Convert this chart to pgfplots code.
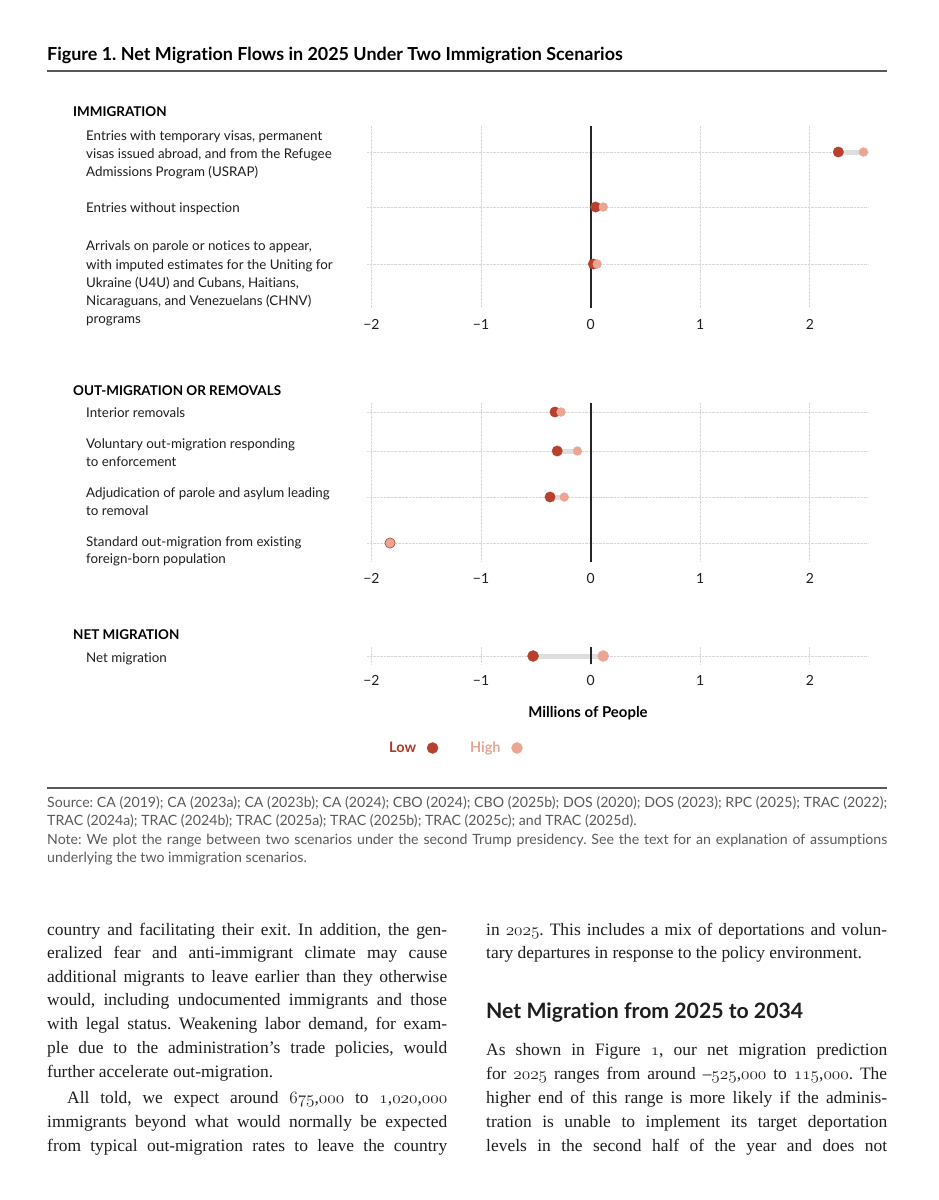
\documentclass[border=0pt]{standalone}
\usepackage{fontspec}
\setmainfont{Liberation Serif}
\newfontfamily\lato[Ligatures=NoCommon]{Lato}
\usepackage{pgfplots}
\pgfplotsset{compat=1.18}
\usepackage{pgfplotstable}
\frenchspacing

\definecolor{lowc}{RGB}{183,65,44}
\definecolor{highc}{RGB}{234,166,146}
\definecolor{lowt}{RGB}{172,56,40}
\definecolor{hight}{RGB}{228,165,148}
\definecolor{conn}{RGB}{222,222,222}
\definecolor{gridc}{RGB}{216,216,216}
\definecolor{txt}{RGB}{30,30,30}
\definecolor{note}{RGB}{90,90,90}

% pos = vertical position of the row (page pixels), values in millions
\pgfplotstableread{
pos low high
152 2.26 2.49
207 0.045 0.115
264 0.025 0.06
}\immig
\pgfplotstableread{
pos low high
412 -0.325 -0.27
451 -0.305 -0.12
497 -0.37 -0.24
543 -1.83 -1.83
}\outmig
\pgfplotstableread{
pos low high
656 -0.525 0.115
}\netmig

\pgfplotsset{
  dumbbell/.style={
    scale only axis, width=502bp,
    xmin=-2.04, xmax=2.54, y dir=reverse,
    axis x line*=bottom, axis y line*=left,
    axis line style={draw=none}, major tick length=0pt,
    xtick={-2,-1,0,1,2}, xticklabels={−2,−1,0,1,2},
    xticklabel style={font=\lato\fontsize{14}{14}\selectfont, text=txt, yshift=-7.5bp},
    yticklabels={},
    xmajorgrids, ymajorgrids,
    grid style={densely dotted, gridc, line width=0.8bp},
    clip=false,
  },
  conn/.style={only marks, mark=none, forget plot,
    error bars/.cd, x dir=plus, x explicit, error mark=none,
    error bar style={draw=conn, line width=5bp}},
  lowm/.style={lowc, only marks, mark=*, mark size=5.2bp},
  highm/.style={highc, only marks, mark=*, mark size=4.4bp},
}

\newcommand\lab[3]{\node[anchor=mid west, inner sep=0pt, yshift=-3bp, font=\lato\fontsize{13.4}{13.4}\selectfont, text=txt] at (#1,-#2) {#3};}
\newcommand\head[2]{\node[anchor=mid west, inner sep=0pt, yshift=-3bp, font=\lato\bfseries\fontsize{13.5}{13.5}\selectfont, text=black] at (73,-#1) {#2};}
\newcommand\bl[4]{\node[anchor=mid west, inner sep=0pt, yshift=-3bp, font=\fontsize{17.5}{17.5}\selectfont, text=txt] at (#1,-#2) {\makebox[#3bp][s]{#4}};}
\newcommand\bn[3]{\node[anchor=mid west, inner sep=0pt, yshift=-3bp, font=\fontsize{17.5}{17.5}\selectfont, text=txt] at (#1,-#2) {#3};}
% old-style figures from the Computer Modern math italic font
\newcommand\on[1]{{\fontencoding{OML}\fontfamily{cmm}\fontseries{m}\fontshape{it}\selectfont #1}}

\begin{document}
\begin{tikzpicture}[x=1bp, y=1bp]
\path[use as bounding box, fill=white] (0,0) rectangle (939,-1200);

% title and rules
\node[anchor=mid west, inner sep=0pt, yshift=-3bp, font=\lato\bfseries\fontsize{18}{18}\selectfont, text=black] at (47,-55)
  {Figure 1. Net Migration Flows in 2025 Under Two Immigration Scenarios};
\draw[black!65, line width=1.2bp] (47,-71) -- (887,-71);
\draw[black!65, line width=1.2bp] (47,-788) -- (887,-788);

% immigration
\begin{axis}[dumbbell, at={(367bp,-308bp)}, anchor=south west, height=182bp, ymin=126, ymax=308,
  ytick={152,207,264}]
  \addplot[conn] table[x=low, y=pos, x error expr=\thisrow{high}-\thisrow{low}] {\immig};
  \addplot[black!85, line width=2.2bp, forget plot] coordinates {(0,126) (0,308)};
  \addplot[lowm] table[x=low, y=pos] {\immig};
  \addplot[highm] table[x=high, y=pos] {\immig};
\end{axis}

% out-migration
\begin{axis}[dumbbell, at={(367bp,-562bp)}, anchor=south west, height=159bp, ymin=403, ymax=562,
  ytick={412,451,497,543}]
  \addplot[conn] table[x=low, y=pos, x error expr=\thisrow{high}-\thisrow{low}] {\outmig};
  \addplot[black!85, line width=2.2bp, forget plot] coordinates {(0,403) (0,562)};
  \addplot[lowm] table[x=low, y=pos] {\outmig};
  \addplot[highm] table[x=high, y=pos] {\outmig};
\end{axis}

% net migration
\begin{axis}[dumbbell, at={(367bp,-664bp)}, anchor=south west, height=17bp, ymin=647, ymax=664,
  ytick={656},
  legend columns=2, legend plot pos=right,
  legend style={draw=none, fill=none, at={(axis description cs:0.175,-4.94)}, anchor=center,
    font=\lato\bfseries\fontsize{14.5}{14.5}\selectfont,
    /tikz/every odd column/.append style={column sep=9bp},
    /tikz/every even column/.append style={column sep=30bp}}]
  \addplot[conn] table[x=low, y=pos, x error expr=\thisrow{high}-\thisrow{low}] {\netmig};
  \addplot[black!85, line width=2.2bp, forget plot] coordinates {(0,647) (0,664)};
  \addplot[lowm, mark size=5.5bp] table[x=low, y=pos] {\netmig};
  \addlegendentry[text=lowt]{Low}
  \addplot[highm, mark size=5.5bp] table[x=high, y=pos] {\netmig};
  \addlegendentry[text=hight]{High}
\end{axis}

\node[font=\lato\bfseries\fontsize{15}{15}\selectfont, text=black] at (588,-713) {Millions of People};

% row labels
\head{111}{IMMIGRATION}
\lab{86}{135}{Entries with temporary visas, permanent}
\lab{86}{153}{visas issued abroad, and from the Refugee}
\lab{86}{171}{Admissions Program (USRAP)}
\lab{86}{207}{Entries without inspection}
\lab{86}{245}{Arrivals on parole or notices to appear,}
\lab{86}{264}{with imputed estimates for the Uniting for}
\lab{86}{282}{Ukraine (U4U) and Cubans, Haitians,}
\lab{86}{300}{Nicaraguans, and Venezuelans (CHNV)}
\lab{86}{318}{programs}
\head{390}{OUT-MIGRATION OR REMOVALS}
\lab{86}{412}{Interior removals}
\lab{86}{443}{Voluntary out-migration responding}
\lab{86}{461}{to enforcement}
\lab{86}{492}{Adjudication of parole and asylum leading}
\lab{86}{510}{to removal}
\lab{86}{541}{Standard out-migration from existing}
\lab{86}{558}{foreign-born population}
\head{634}{NET MIGRATION}
\lab{86}{657}{Net migration}

% source and note
\begin{scope}[every node/.style={anchor=mid west, inner sep=0pt, yshift=-3bp, font=\lato\fontsize{14.2}{14.2}\selectfont, text=note}]
\node at (47,-802) {\makebox[840bp][s]{Source: CA (2019); CA (2023a); CA (2023b); CA (2024); CBO (2024); CBO (2025b); DOS (2020); DOS (2023); RPC (2025); TRAC (2022);}};
\node at (47,-820) {TRAC (2024a); TRAC (2024b); TRAC (2025a); TRAC (2025b); TRAC (2025c); and TRAC (2025d).};
\node at (47,-839) {\makebox[840bp][s]{Note: We plot the range between two scenarios under the second Trump presidency. See the text for an explanation of assumptions}};
\node at (47,-857) {underlying the two immigration scenarios.};
\end{scope}

% body text, left column
\bl{47}{930}{400}{country and facilitating their exit. In addition, the gen-}
\bl{47}{953}{400}{eralized fear and anti-immigrant climate may cause}
\bl{47}{977}{400}{additional migrants to leave earlier than they otherwise}
\bl{47}{1000}{400}{would, including undocumented immigrants and those}
\bl{47}{1024}{400}{with legal status. Weakening labor demand, for exam-}
\bl{47}{1048}{400}{ple due to the administration’s trade policies, would}
\bn{47}{1072}{further accelerate out-migration.}
\bl{67}{1098}{380}{All told, we expect around \on{675},\on{000} to \on{1},\on{020},\on{000}}
\bl{47}{1122}{400}{immigrants beyond what would normally be expected}
\bl{47}{1146}{400}{from typical out-migration rates to leave the country}

% body text, right column
\bl{486}{930}{401}{in \on{2025}. This includes a mix of deportations and volun-}
\bn{486}{953}{tary departures in response to the policy environment.}
\node[anchor=mid west, inner sep=0pt, yshift=-4bp, font=\lato\bfseries\fontsize{21.3}{21.3}\selectfont, text=txt] at (486,-1012) {Net Migration from 2025 to 2034};
\bl{486}{1050}{401}{As shown in Figure \on{1}, our net migration prediction}
\bl{486}{1074}{401}{for \on{2025} ranges from around –\on{525},\on{000} to \on{115},\on{000}. The}
\bl{486}{1098}{401}{higher end of this range is more likely if the adminis-}
\bl{486}{1122}{401}{tration is unable to implement its target deportation}
\bl{486}{1146}{401}{levels in the second half of the year and does not}
\end{tikzpicture}
\end{document}
